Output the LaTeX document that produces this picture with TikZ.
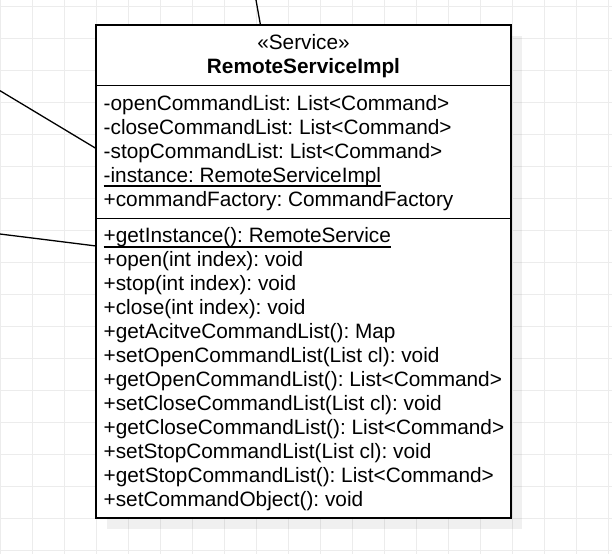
\documentclass[tikz,border=0pt]{standalone}
\usepackage{fontspec}
\setmainfont{Liberation Sans}
\frenchspacing
\usetikzlibrary{shadows}
\begin{document}
\begin{tikzpicture}[x=1pt,y=-1pt,
  gridline/.style={draw=gray!15, line width=1pt},
  classbox/.style={draw=black, line width=1.5pt, fill=white, rectangle, inner sep=0pt,
    minimum width=415pt, minimum height=493pt,
    drop shadow={shadow xshift=10.5pt, shadow yshift=-10.5pt, fill=black, opacity=0.06}},
  divider/.style={draw=black, line width=1.5pt},
  member/.style={anchor=base west, inner sep=0pt, font=\fontsize{20.8}{24}\selectfont\frenchspacing},
  titletext/.style={anchor=base, inner sep=0pt, font=\fontsize{20.8}{24}\selectfont},
  uline/.style={draw=black, line width=1.5pt},
  assoc/.style={draw=black, line width=1.3pt}]
\useasboundingbox[fill=white] (0,0) rectangle (612,554);
% grid background
\foreach \gx in {0,32,...,608} { \draw[gridline] (\gx+0.5,0) -- (\gx+0.5,554); }
\foreach \gy in {6,38,...,550} { \draw[gridline] (0,\gy) -- (612,\gy); }
% free ends of connectors
\coordinate (e1) at (256,0);
\coordinate (e2) at (0,90.7);
\coordinate (e3) at (0,234);
% class box
\node[classbox] (cls) at (303.5,271.5) {};
\draw[divider] ([yshift=-61pt]cls.north west) -- ([yshift=-61pt]cls.north east);
\draw[divider] ([yshift=-194pt]cls.north west) -- ([yshift=-194pt]cls.north east);
% connectors
\draw[assoc] (e1) -- (cls);
\draw[assoc] (e2) -- (cls);
\draw[assoc] (e3) -- (cls);
% header
\node[titletext] (st) at (303.5,49.5) {«Service»};
\node[titletext, font=\fontsize{20.8}{24}\selectfont\bfseries] (nm) at (303.5,73.5) {RemoteServiceImpl};
% attributes
\node[member] (a1) at (103.5,110) {-openCommandList: List<Command>};
\node[member] (a2) at (103.5,134) {-closeCommandList: List<Command>};
\node[member] (a3) at (103.5,158) {-stopCommandList: List<Command>};
\node[member] (a4) at (103.5,182) {-instance: RemoteServiceImpl};
\node[member] (a5) at (103.5,206) {+commandFactory: CommandFactory};
\draw[uline] ([yshift=-4pt]a4.base west) -- ([yshift=-4pt]a4.base east);
% methods
\node[member] (m1) at (103.5,242.5) {+getInstance(): RemoteService};
\node[member] (m2) at (103.5,266.5) {+open(int index): void};
\node[member] (m3) at (103.5,290.5) {+stop(int index): void};
\node[member] (m4) at (103.5,314.5) {+close(int index): void};
\node[member] (m5) at (103.5,338.5) {+getAcitveCommandList(): Map};
\node[member] (m6) at (103.5,362.5) {+setOpenCommandList(List cl): void};
\node[member] (m7) at (103.5,386.5) {+getOpenCommandList(): List<Command>};
\node[member] (m8) at (103.5,410.5) {+setCloseCommandList(List cl): void};
\node[member] (m9) at (103.5,434.5) {+getCloseCommandList(): List<Command>};
\node[member] (m10) at (103.5,458.5) {+setStopCommandList(List cl): void};
\node[member] (m11) at (103.5,482.5) {+getStopCommandList(): List<Command>};
\node[member] (m12) at (103.5,506.5) {+setCommandObject(): void};
\draw[uline] ([yshift=-4.5pt]m1.base west) -- ([yshift=-4.5pt]m1.base east);
\end{tikzpicture}
\end{document}
